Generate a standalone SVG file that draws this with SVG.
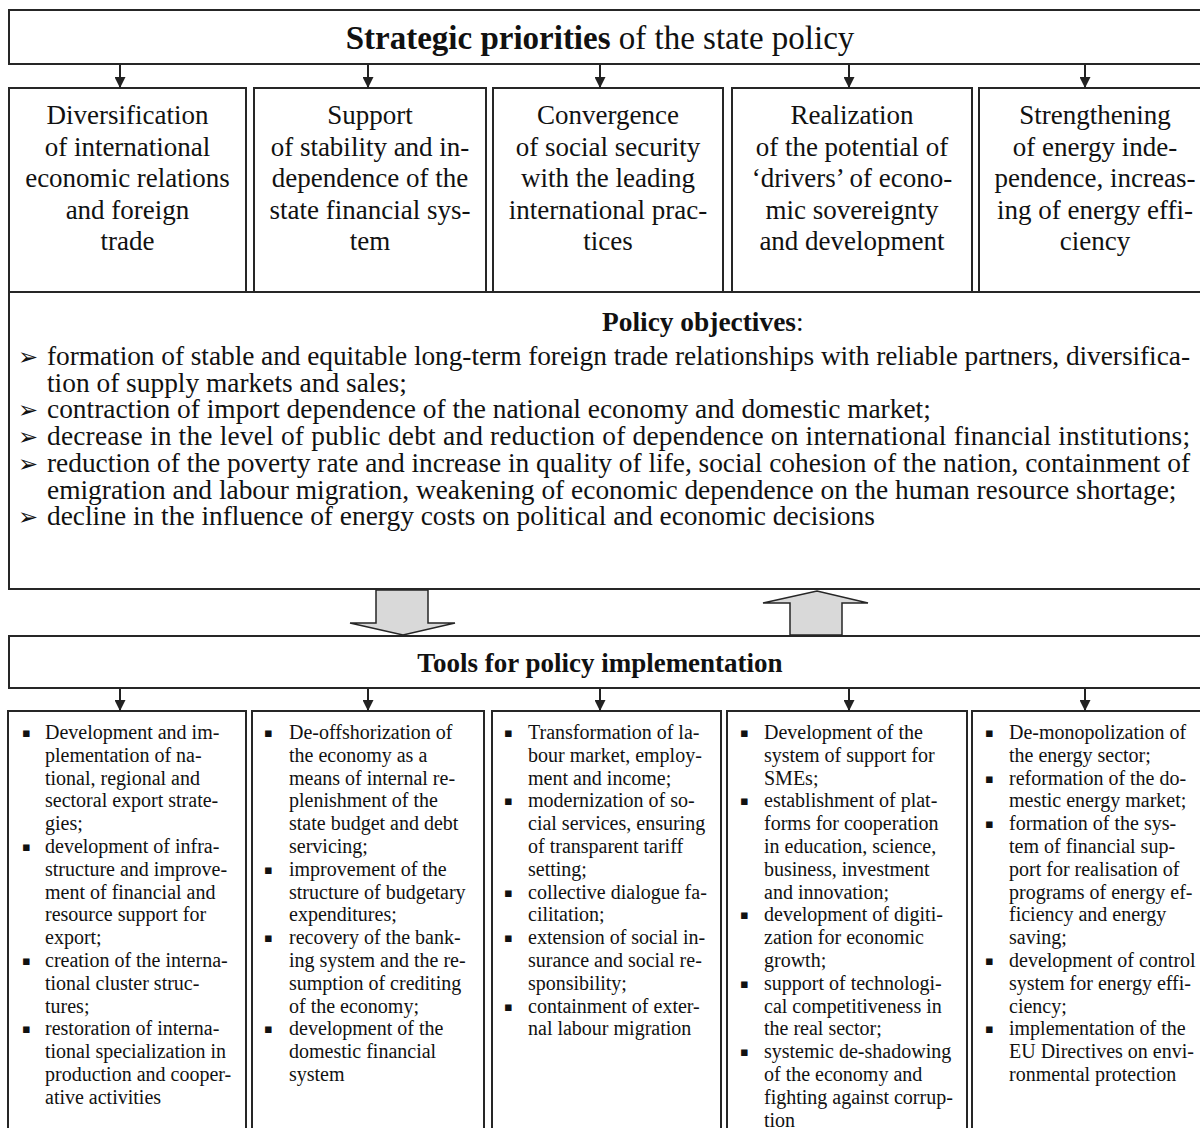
<svg xmlns="http://www.w3.org/2000/svg" width="1200" height="1128" viewBox="0 0 1200 1128">
<style>
.box{fill:#fff;stroke:#262626;stroke-width:2}
.t{font-family:"Liberation Serif","Times New Roman",serif;fill:#111}
.top{font-size:27px;text-anchor:middle}
.obj{font-size:27.4px}
.tl{font-size:20px}
.b{font-weight:bold}
.sym{font-family:"DejaVu Sans",sans-serif;fill:#111}
.ar{font-size:24px}
.sq{font-size:13px}
.big{fill:#d9d9d9;stroke:#262626;stroke-width:1.5;stroke-linejoin:miter}
.cn{stroke:#222;stroke-width:2;fill:none}
</style>
<defs>
<marker id="ah" viewBox="0 0 11 11" markerWidth="11" markerHeight="11" refX="11" refY="5.5" orient="auto" markerUnits="userSpaceOnUse">
<path d="M0,0 L11,5.5 L0,11 z" fill="#222"/>
</marker>
</defs>
<rect width="1200" height="1128" fill="#fff"/>

<g id="strategic-priorities">
<rect class="box" x="9" y="10" width="1203" height="54"/>
<text class="t" x="600" y="49" font-size="33" text-anchor="middle"><tspan class="b">Strategic priorities</tspan> of the state policy</text>
</g>

<g id="priority-1">
<rect class="box" x="9" y="88" width="237" height="204"/>
<text class="t top" x="127.5" y="124">Diversification<tspan x="127.5" dy="31.5">of international</tspan><tspan x="127.5" dy="31.5">economic relations</tspan><tspan x="127.5" dy="31.5">and foreign</tspan><tspan x="127.5" dy="31.5">trade</tspan></text>
</g>
<g id="priority-2">
<rect class="box" x="254" y="88" width="232" height="204"/>
<text class="t top" x="370" y="124">Support<tspan x="370" dy="31.5">of stability and in-</tspan><tspan x="370" dy="31.5">dependence of the</tspan><tspan x="370" dy="31.5">state financial sys-</tspan><tspan x="370" dy="31.5">tem</tspan></text>
</g>
<g id="priority-3">
<rect class="box" x="493" y="88" width="230" height="204"/>
<text class="t top" x="608" y="124">Convergence<tspan x="608" dy="31.5">of social security</tspan><tspan x="608" dy="31.5">with the leading</tspan><tspan x="608" dy="31.5">international prac-</tspan><tspan x="608" dy="31.5">tices</tspan></text>
</g>
<g id="priority-4">
<rect class="box" x="732" y="88" width="240" height="204"/>
<text class="t top" x="852" y="124">Realization<tspan x="852" dy="31.5">of the potential of</tspan><tspan x="852" dy="31.5">‘drivers’ of econo-</tspan><tspan x="852" dy="31.5">mic sovereignty</tspan><tspan x="852" dy="31.5">and development</tspan></text>
</g>
<g id="priority-5">
<rect class="box" x="979" y="88" width="233" height="204"/>
<text class="t top" x="1095" y="124">Strengthening<tspan x="1095" dy="31.5">of energy inde-</tspan><tspan x="1095" dy="31.5">pendence, increas-</tspan><tspan x="1095" dy="31.5">ing of energy effi-</tspan><tspan x="1095" dy="31.5">ciency</tspan></text>
</g>

<g id="policy-objectives">
<rect class="box" x="9" y="292" width="1203" height="297"/>
<text class="t obj" x="602" y="331"><tspan class="b">Policy objectives</tspan>:</text>
<text class="sym ar" x="18" y="365">➢</text>
<text class="t obj" x="47" y="365" textLength="1143" lengthAdjust="spacing">formation of stable and equitable long-term foreign trade relationships with reliable partners, diversifica-</text>
<text class="t obj" x="47" y="391.7">tion of supply markets and sales;</text>
<text class="sym ar" x="18" y="418.4">➢</text>
<text class="t obj" x="47" y="418.4">contraction of import dependence of the national economy and domestic market;</text>
<text class="sym ar" x="18" y="445.1">➢</text>
<text class="t obj" x="47" y="445.1" textLength="1143" lengthAdjust="spacing">decrease in the level of public debt and reduction of dependence on international financial institutions;</text>
<text class="sym ar" x="18" y="471.8">➢</text>
<text class="t obj" x="47" y="471.8" textLength="1143" lengthAdjust="spacing">reduction of the poverty rate and increase in quality of life, social cohesion of the nation, containment of</text>
<text class="t obj" x="47" y="498.5">emigration and labour migration, weakening of economic dependence on the human resource shortage;</text>
<text class="sym ar" x="18" y="525.2">➢</text>
<text class="t obj" x="47" y="525.2">decline in the influence of energy costs on political and economic decisions</text>
</g>

<g id="tools-header">
<rect class="box" x="9" y="636" width="1203" height="52"/>
<text class="t b" x="600" y="672" font-size="27" text-anchor="middle">Tools for policy implementation</text>
</g>

<g id="tools-1">
<rect class="box" x="8" y="711" width="238" height="430"/>
<text class="sym sq" x="22" y="737">▪<tspan x="22" dy="113.9">▪</tspan><tspan x="22" dy="113.9">▪</tspan><tspan x="22" dy="68.4">▪</tspan></text>
<text class="t tl" x="45" y="739">Development and im-<tspan x="45" dy="22.8">plementation of na-</tspan><tspan x="45" dy="22.8">tional, regional and</tspan><tspan x="45" dy="22.8">sectoral export strate-</tspan><tspan x="45" dy="22.8">gies;</tspan><tspan x="45" dy="22.8">development of infra-</tspan><tspan x="45" dy="22.8">structure and improve-</tspan><tspan x="45" dy="22.8">ment of financial and</tspan><tspan x="45" dy="22.8">resource support for</tspan><tspan x="45" dy="22.8">export;</tspan><tspan x="45" dy="22.8">creation of the interna-</tspan><tspan x="45" dy="22.8">tional cluster struc-</tspan><tspan x="45" dy="22.8">tures;</tspan><tspan x="45" dy="22.8">restoration of interna-</tspan><tspan x="45" dy="22.8">tional specialization in</tspan><tspan x="45" dy="22.8">production and cooper-</tspan><tspan x="45" dy="22.8">ative activities</tspan></text>
</g>

<g id="tools-2">
<rect class="box" x="252" y="711" width="232" height="430"/>
<text class="sym sq" x="264" y="737">▪<tspan x="264" dy="136.8">▪</tspan><tspan x="264" dy="68.4">▪</tspan><tspan x="264" dy="91.2">▪</tspan></text>
<text class="t tl" x="289" y="739">De-offshorization of<tspan x="289" dy="22.8">the economy as a</tspan><tspan x="289" dy="22.8">means of internal re-</tspan><tspan x="289" dy="22.8">plenishment of the</tspan><tspan x="289" dy="22.8">state budget and debt</tspan><tspan x="289" dy="22.8">servicing;</tspan><tspan x="289" dy="22.8">improvement of the</tspan><tspan x="289" dy="22.8">structure of budgetary</tspan><tspan x="289" dy="22.8">expenditures;</tspan><tspan x="289" dy="22.8">recovery of the bank-</tspan><tspan x="289" dy="22.8">ing system and the re-</tspan><tspan x="289" dy="22.8">sumption of crediting</tspan><tspan x="289" dy="22.8">of the economy;</tspan><tspan x="289" dy="22.8">development of the</tspan><tspan x="289" dy="22.8">domestic financial</tspan><tspan x="289" dy="22.8">system</tspan></text>
</g>

<g id="tools-3">
<rect class="box" x="492" y="711" width="229" height="430"/>
<text class="sym sq" x="504" y="737">▪<tspan x="504" dy="68.4">▪</tspan><tspan x="504" dy="91.2">▪</tspan><tspan x="504" dy="45.6">▪</tspan><tspan x="504" dy="68.4">▪</tspan></text>
<text class="t tl" x="528" y="739">Transformation of la-<tspan x="528" dy="22.8">bour market, employ-</tspan><tspan x="528" dy="22.8">ment and income;</tspan><tspan x="528" dy="22.8">modernization of so-</tspan><tspan x="528" dy="22.8">cial services, ensuring</tspan><tspan x="528" dy="22.8">of transparent tariff</tspan><tspan x="528" dy="22.8">setting;</tspan><tspan x="528" dy="22.8">collective dialogue fa-</tspan><tspan x="528" dy="22.8">cilitation;</tspan><tspan x="528" dy="22.8">extension of social in-</tspan><tspan x="528" dy="22.8">surance and social re-</tspan><tspan x="528" dy="22.8">sponsibility;</tspan><tspan x="528" dy="22.8">containment of exter-</tspan><tspan x="528" dy="22.8">nal labour migration</tspan></text>
</g>

<g id="tools-4">
<rect class="box" x="727" y="711" width="240" height="430"/>
<text class="sym sq" x="740" y="737">▪<tspan x="740" dy="68.4">▪</tspan><tspan x="740" dy="114">▪</tspan><tspan x="740" dy="68.4">▪</tspan><tspan x="740" dy="68.4">▪</tspan></text>
<text class="t tl" x="764" y="739">Development of the<tspan x="764" dy="22.8">system of support for</tspan><tspan x="764" dy="22.8">SMEs;</tspan><tspan x="764" dy="22.8">establishment of plat-</tspan><tspan x="764" dy="22.8">forms for cooperation</tspan><tspan x="764" dy="22.8">in education, science,</tspan><tspan x="764" dy="22.8">business, investment</tspan><tspan x="764" dy="22.8">and innovation;</tspan><tspan x="764" dy="22.8">development of digiti-</tspan><tspan x="764" dy="22.8">zation for economic</tspan><tspan x="764" dy="22.8">growth;</tspan><tspan x="764" dy="22.8">support of technologi-</tspan><tspan x="764" dy="22.8">cal competitiveness in</tspan><tspan x="764" dy="22.8">the real sector;</tspan><tspan x="764" dy="22.8">systemic de-shadowing</tspan><tspan x="764" dy="22.8">of the economy and</tspan><tspan x="764" dy="22.8">fighting against corrup-</tspan><tspan x="764" dy="22.8">tion</tspan></text>
</g>

<g id="tools-5">
<rect class="box" x="972" y="711" width="240" height="430"/>
<text class="sym sq" x="985" y="737">▪<tspan x="985" dy="45.6">▪</tspan><tspan x="985" dy="45.6">▪</tspan><tspan x="985" dy="136.8">▪</tspan><tspan x="985" dy="68.4">▪</tspan></text>
<text class="t tl" x="1009" y="739">De-monopolization of<tspan x="1009" dy="22.8">the energy sector;</tspan><tspan x="1009" dy="22.8">reformation of the do-</tspan><tspan x="1009" dy="22.8">mestic energy market;</tspan><tspan x="1009" dy="22.8">formation of the sys-</tspan><tspan x="1009" dy="22.8">tem of financial sup-</tspan><tspan x="1009" dy="22.8">port for realisation of</tspan><tspan x="1009" dy="22.8">programs of energy ef-</tspan><tspan x="1009" dy="22.8">ficiency and energy</tspan><tspan x="1009" dy="22.8">saving;</tspan><tspan x="1009" dy="22.8">development of control</tspan><tspan x="1009" dy="22.8">system for energy effi-</tspan><tspan x="1009" dy="22.8">ciency;</tspan><tspan x="1009" dy="22.8">implementation of the</tspan><tspan x="1009" dy="22.8">EU Directives on envi-</tspan><tspan x="1009" dy="22.8">ronmental protection</tspan></text>
</g>

<g id="connectors">
<line class="cn" x1="120" y1="65" x2="120" y2="88" marker-end="url(#ah)"/>
<line class="cn" x1="368" y1="65" x2="368" y2="88" marker-end="url(#ah)"/>
<line class="cn" x1="600" y1="65" x2="600" y2="88" marker-end="url(#ah)"/>
<line class="cn" x1="849" y1="65" x2="849" y2="88" marker-end="url(#ah)"/>
<line class="cn" x1="1085" y1="65" x2="1085" y2="88" marker-end="url(#ah)"/>
<polygon class="big" points="376,590 428,590 428,623 455,623 403,635 350,623 376,623"/>
<polygon class="big" points="790,635 790,603 763,603 817,591 868,603 842,603 842,635"/>
<line class="cn" x1="120" y1="689" x2="120" y2="711" marker-end="url(#ah)"/>
<line class="cn" x1="368" y1="689" x2="368" y2="711" marker-end="url(#ah)"/>
<line class="cn" x1="600" y1="689" x2="600" y2="711" marker-end="url(#ah)"/>
<line class="cn" x1="849" y1="689" x2="849" y2="711" marker-end="url(#ah)"/>
<line class="cn" x1="1085" y1="689" x2="1085" y2="711" marker-end="url(#ah)"/>
</g>
</svg>
